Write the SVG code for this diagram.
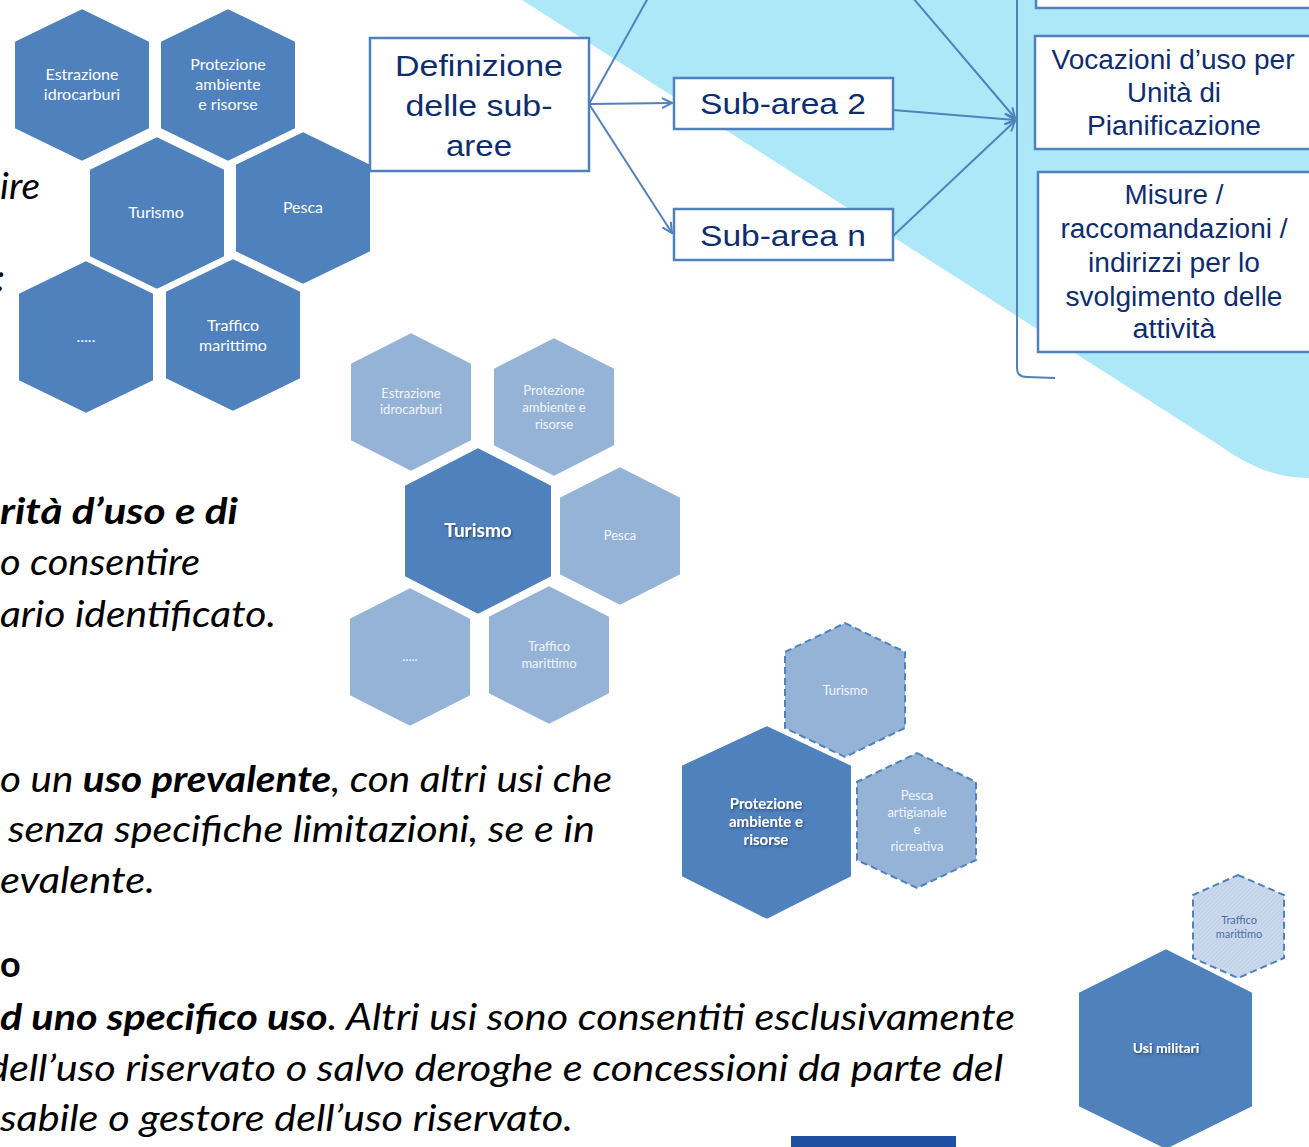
<svg xmlns="http://www.w3.org/2000/svg" width="1309" height="1147" viewBox="0 0 1309 1147">
<style>
.hexD{fill:#4F81BD;stroke:#fff;stroke-width:2}
.hexL{fill:#95B3D7;stroke:#fff;stroke-width:2}
.hexDash{fill:#95B3D7;stroke:#4F81BD;stroke-width:2;stroke-dasharray:7 4}
.hexHatch{fill:url(#hatch);stroke:#4F81BD;stroke-width:2;stroke-dasharray:7 4}
.box{fill:#fff;stroke:#4F81BD;stroke-width:2.5}
.bt{font-family:"Liberation Sans",Arial,sans-serif;fill:#0F2D6E;text-anchor:middle;font-size:30px}
.bt2{font-family:"Liberation Sans",Arial,sans-serif;fill:#0F2D6E;text-anchor:middle;font-size:27px}
.ht{font-family:Lato,"Open Sans",sans-serif;fill:#fff;text-anchor:middle;font-size:16px}
.hs{font-family:Lato,"Open Sans",sans-serif;fill:#F2F5FA;text-anchor:middle;font-size:13px}
.hb{font-family:Lato,"Open Sans",sans-serif;fill:#fff;text-anchor:middle;font-weight:bold}
.it{font-family:Lato,"Open Sans",sans-serif;font-style:italic;font-size:36px;fill:#000}
.b{font-weight:bold}
.conn{stroke:#4F81BD;stroke-width:2;fill:none}
</style>
<defs>
<marker id="arr" viewBox="0 0 12 12" refX="11" refY="6" markerWidth="12" markerHeight="12" markerUnits="userSpaceOnUse" orient="auto">
<path d="M1,1 L11,6 L1,11" fill="none" stroke="#4F81BD" stroke-width="2"/>
</marker>
<pattern id="hatch" width="3" height="3" patternUnits="userSpaceOnUse" patternTransform="rotate(45)">
<rect width="3" height="3" fill="#CBD9EC"/>
<line x1="0" y1="0" x2="0" y2="3" stroke="#B3C6E1" stroke-width="1"/>
</pattern>
<filter id="sh" x="-20%" y="-20%" width="140%" height="140%">
<feDropShadow dx="1" dy="1.5" stdDeviation="1" flood-color="#1a2f55" flood-opacity="0.7"/>
</filter>
</defs>

<rect width="1309" height="1147" fill="#fff"/>
<path id="bg" d="M522,0 L1309,0 L1309,478 C1278,478 1252,468 1222,447 Z" fill="#ADE8F8"/>

<!-- top-left cluster -->
<g id="tl-estrazione"><polygon class="hexD" points="82,8 150,41 150,129 82,162 14,129 14,41"/><text class="ht" x="82" y="80">Estrazione</text><text class="ht" x="82" y="100">idrocarburi</text></g>
<g id="tl-protezione"><polygon class="hexD" points="228,8 296,41 296,129 228,162 160,129 160,41"/><text class="ht" x="228" y="70">Protezione</text><text class="ht" x="228" y="90">ambiente</text><text class="ht" x="228" y="110">e risorse</text></g>
<g id="tl-turismo"><polygon class="hexD" points="157,136 225,169 225,257 157,290 89,257 89,169"/><text class="ht" x="156" y="218">Turismo</text></g>
<g id="tl-pesca"><polygon class="hexD" points="303,131 371,164 371,252 303,285 235,252 235,164"/><text class="ht" x="303" y="213">Pesca</text></g>
<g id="tl-dots"><polygon class="hexD" points="86,260 154,293 154,381 86,414 18,381 18,293"/><text class="ht" x="86" y="342">.....</text></g>
<g id="tl-traffico"><polygon class="hexD" points="233,258 301,291 301,379 233,412 165,379 165,291"/><text class="ht" x="233" y="331">Traffico</text><text class="ht" x="233" y="351">marittimo</text></g>

<!-- middle cluster -->
<g id="m-estrazione"><polygon class="hexL" points="411,332 472,363 472,441 411,472 350,441 350,363"/><text class="hs" x="411" y="398">Estrazione</text><text class="hs" x="411" y="414">idrocarburi</text></g>
<g id="m-protezione"><polygon class="hexL" points="554,337 615,368 615,446 554,477 493,446 493,368"/><text class="hs" x="554" y="395">Protezione</text><text class="hs" x="554" y="412">ambiente e</text><text class="hs" x="554" y="429">risorse</text></g>
<g id="m-turismo"><polygon class="hexD" points="478,447 552,485 552,577 478,615 404,577 404,485"/><text class="hb" x="478" y="537" font-size="19" filter="url(#sh)">Turismo</text></g>
<g id="m-pesca"><polygon class="hexL" points="620,466 681,497 681,575 620,606 559,575 559,497"/><text class="hs" x="620" y="540">Pesca</text></g>
<g id="m-dots"><polygon class="hexL" points="410,587 471,618 471,696 410,727 349,696 349,618"/><text class="hs" x="410" y="661">.....</text></g>
<g id="m-traffico"><polygon class="hexL" points="549,585 610,616 610,694 549,725 488,694 488,616"/><text class="hs" x="549" y="651">Traffico</text><text class="hs" x="549" y="668">marittimo</text></g>

<!-- bottom-right cluster -->
<g id="b-turismo"><polygon class="hexDash" points="845,623 905,652 905,728 845,757 785,728 785,652"/><text class="hs" x="845" y="695">Turismo</text></g>
<g id="b-protezione"><polygon class="hexD" points="767,725 852,765 852,877 767,920 681,877 681,765"/><text class="hb" x="766" y="809" font-size="15" filter="url(#sh)">Protezione</text><text class="hb" x="766" y="827" font-size="15" filter="url(#sh)">ambiente e</text><text class="hb" x="766" y="845" font-size="15" filter="url(#sh)">risorse</text></g>
<g id="b-pesca"><polygon class="hexDash" points="917,753 976,782 976,860 917,888 857,860 857,782"/><text class="hs" x="917" y="800">Pesca</text><text class="hs" x="917" y="817">artigianale</text><text class="hs" x="917" y="834">e</text><text class="hs" x="917" y="851">ricreativa</text></g>

<!-- far right -->
<g id="f-traffico"><polygon class="hexHatch" points="1238,875 1284,895 1284,958 1238,978 1193,958 1193,895"/><text x="1239" y="924" font-family="Lato,'Open Sans',sans-serif" font-size="11" fill="#4A70AA" text-anchor="middle">Traffico</text><text x="1239" y="938" font-family="Lato,'Open Sans',sans-serif" font-size="11" fill="#4A70AA" text-anchor="middle">marittimo</text></g>
<g id="f-militari"><polygon class="hexD" points="1166,948 1253,992 1253,1107 1166,1150 1078,1107 1078,992"/><text class="hb" x="1166" y="1053" font-size="14" filter="url(#sh)">Usi militari</text></g>

<!-- connectors -->
<g id="connectors">
<line class="conn" x1="589" y1="104" x2="648" y2="-2"/>
<line class="conn" x1="589" y1="104" x2="672" y2="103" marker-end="url(#arr)"/>
<line class="conn" x1="589" y1="104" x2="672" y2="233" marker-end="url(#arr)"/>
<line class="conn" x1="913" y1="-2" x2="1015" y2="118" marker-end="url(#arr)"/>
<line class="conn" x1="893" y1="110" x2="1015" y2="120" marker-end="url(#arr)"/>
<line class="conn" x1="893" y1="236" x2="1015" y2="121" marker-end="url(#arr)"/>
<path class="conn" d="M1017,-2 L1017,368 Q1017,377 1027,377 L1055,378"/>
</g>

<!-- boxes -->
<g id="definizione"><rect class="box" x="370" y="38" width="219" height="133"/>
<text class="bt" x="479" y="76" textLength="168" lengthAdjust="spacingAndGlyphs">Definizione</text>
<text class="bt" x="479" y="116" textLength="147" lengthAdjust="spacingAndGlyphs">delle sub-</text>
<text class="bt" x="479" y="156" textLength="66" lengthAdjust="spacingAndGlyphs">aree</text></g>
<g id="subarea2"><rect class="box" x="674" y="78" width="219" height="51"/>
<text class="bt" x="783" y="114" textLength="166" lengthAdjust="spacingAndGlyphs">Sub-area 2</text></g>
<g id="subarean"><rect class="box" x="674" y="209" width="219" height="51"/>
<text class="bt" x="783" y="246" textLength="166" lengthAdjust="spacingAndGlyphs">Sub-area n</text></g>
<g id="box-top"><rect class="box" x="1036" y="-40" width="300" height="48"/></g>
<g id="vocazioni"><rect class="box" x="1035" y="36" width="300" height="113"/>
<text class="bt2" x="1173" y="69" textLength="243" lengthAdjust="spacingAndGlyphs">Vocazioni d’uso per</text>
<text class="bt2" x="1174" y="102" textLength="94" lengthAdjust="spacingAndGlyphs">Unità di</text>
<text class="bt2" x="1174" y="135" textLength="174" lengthAdjust="spacingAndGlyphs">Pianificazione</text></g>
<g id="misure"><rect class="box" x="1038" y="172" width="300" height="180"/>
<text class="bt2" x="1174" y="204" textLength="99" lengthAdjust="spacingAndGlyphs">Misure /</text>
<text class="bt2" x="1174" y="238" textLength="227" lengthAdjust="spacingAndGlyphs">raccomandazioni /</text>
<text class="bt2" x="1174" y="272" textLength="172" lengthAdjust="spacingAndGlyphs">indirizzi per lo</text>
<text class="bt2" x="1174" y="306" textLength="217" lengthAdjust="spacingAndGlyphs">svolgimento delle</text>
<text class="bt2" x="1174" y="338" textLength="83" lengthAdjust="spacingAndGlyphs">attività</text></g>

<!-- paragraph text -->
<g id="text">
<text class="it" x="0" y="199" textLength="40" lengthAdjust="spacingAndGlyphs">ire</text>
<text class="it" x="-4" y="291">:</text>
<text class="it b" x="0" y="524" textLength="238" lengthAdjust="spacingAndGlyphs">rità d’uso e di</text>
<text class="it" x="0" y="575" textLength="200" lengthAdjust="spacingAndGlyphs">o consentire</text>
<text class="it" x="0" y="627" textLength="276" lengthAdjust="spacingAndGlyphs">ario identificato.</text>
<text class="it" x="0" y="792" textLength="612" lengthAdjust="spacingAndGlyphs">o un <tspan class="b">uso prevalente</tspan>, con altri usi che</text>
<text class="it" x="8" y="842" textLength="587" lengthAdjust="spacingAndGlyphs">senza specifiche limitazioni, se e in</text>
<text class="it" x="0" y="893" textLength="155" lengthAdjust="spacingAndGlyphs">evalente.</text>
<text x="0" y="977" font-family="Lato,'Open Sans',sans-serif" font-weight="bold" font-size="36" fill="#000">o</text>
<text class="it" x="0" y="1030" textLength="1015" lengthAdjust="spacingAndGlyphs"><tspan class="b">d uno specifico uso</tspan>. Altri usi sono consentiti esclusivamente</text>
<text class="it" x="-13" y="1081" textLength="1016" lengthAdjust="spacingAndGlyphs">dell’uso riservato o salvo deroghe e concessioni da parte del</text>
<text class="it" x="0" y="1131" textLength="573" lengthAdjust="spacingAndGlyphs">sabile o gestore dell’uso riservato.</text>
</g>

<rect id="bottom-bar" x="791" y="1136" width="165" height="11" fill="#1E4FA0"/>
</svg>
